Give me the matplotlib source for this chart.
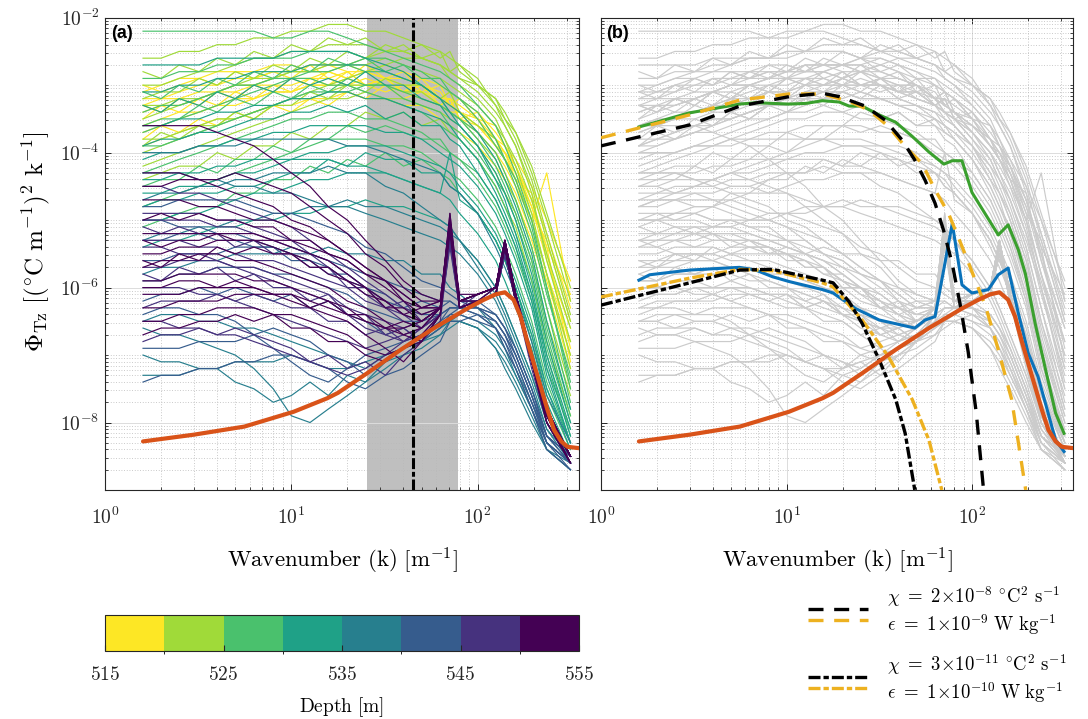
import numpy as np
import matplotlib
matplotlib.use('Agg')
import matplotlib.pyplot as plt
from matplotlib.colors import ListedColormap, BoundaryNorm
from matplotlib.cm import ScalarMappable
from matplotlib.lines import Line2D
from matplotlib.ticker import FixedLocator, FuncFormatter, NullFormatter

plt.rcParams['mathtext.fontset'] = 'cm'
plt.rcParams['font.family'] = ['DejaVu Serif']

# ---------------- data ----------------
# wavenumber grid of the observed spectra [cpm]
k_spec = [1.6, 2.0, 2.5, 3.2, 4.0, 5.0, 6.3, 8.0, 10, 12.6, 15.8, 20, 25, 32, 40,
          50, 63, 71, 80, 100, 125, 140, 160, 195, 235, 315]

# log10 of spectra, grouped by depth bin
spec_515_520 = [
    [-3.3,-3.2,-3.2,-3.1,-3.1,-3.0,-3.0,-2.9,-2.9,-2.9,-2.8,-2.9,-2.8,-2.9,-3.0,-3.0,-3.2,-3.2,-3.3,-3.5,-3.8,-4.0,-4.3,-4.8,-5.6,-6.6],
    [-3.6,-3.5,-3.4,-3.4,-3.3,-3.2,-3.2,-3.1,-3.1,-3.0,-3.0,-2.9,-3.0,-3.1,-3.0,-3.1,-3.3,-3.4,-3.4,-3.7,-4.0,-4.2,-4.5,-5.0,-4.3,-6.2],
    [-3.2,-3.2,-3.1,-3.0,-3.0,-2.9,-2.9,-2.8,-2.8,-2.7,-2.7,-2.7,-2.8,-2.7,-2.8,-2.9,-3.0,-3.1,-3.2,-3.4,-3.7,-3.9,-4.2,-4.7,-5.5,-6.9],
    [-3.9,-3.8,-3.7,-3.6,-3.5,-3.5,-3.4,-3.3,-3.3,-3.2,-3.2,-3.1,-3.2,-3.2,-3.3,-3.3,-3.5,-3.6,-3.7,-3.9,-4.2,-4.4,-4.7,-5.3,-6.0,-7.2],
    [-3.4,-3.3,-3.3,-3.2,-3.1,-3.1,-3.0,-3.0,-3.0,-2.9,-2.9,-3.0,-2.9,-3.0,-3.1,-3.2,-3.3,-3.4,-3.5,-3.7,-4.0,-4.3,-4.6,-5.2,-5.9,-7.0],
    [-3.1,-3.0,-2.9,-2.9,-2.8,-2.8,-2.8,-2.7,-2.7,-2.8,-2.7,-2.8,-2.8,-2.9,-2.9,-3.0,-3.1,-3.3,-3.4,-3.6,-3.9,-4.1,-4.4,-5.0,-5.8,-6.8],
    [-3.7,-3.6,-3.5,-3.4,-3.3,-3.3,-3.2,-3.1,-3.1,-3.0,-3.0,-3.0,-3.0,-3.0,-3.1,-3.1,-3.2,-3.3,-3.4,-3.6,-3.8,-4.0,-4.2,-4.7,-5.4,-6.1],
    [-3.5,-3.3,-3.4,-3.2,-3.3,-3.1,-3.2,-3.0,-3.1,-2.9,-3.0,-2.8,-3.0,-2.9,-3.1,-2.9,-3.2,-3.1,-3.4,-3.5,-3.9,-4.0,-4.4,-4.6,-5.2,-6.3],
    [-3.3,-3.4,-3.2,-3.3,-3.1,-3.2,-3.0,-3.1,-2.9,-3.0,-2.8,-2.9,-2.7,-2.9,-2.8,-3.1,-3.0,-3.3,-3.2,-3.5,-3.6,-3.9,-4.1,-4.5,-5.0,-5.9],
    [-3.8,-3.6,-3.7,-3.5,-3.6,-3.4,-3.5,-3.3,-3.4,-3.2,-3.3,-3.1,-3.2,-3.0,-3.2,-3.1,-3.3,-3.2,-3.5,-3.6,-3.9,-4.1,-4.3,-4.9,-5.3,-6.5],
    [-3.0,-3.1,-3.0,-2.9,-3.0,-2.8,-2.9,-2.8,-2.9,-2.7,-2.9,-2.8,-3.0,-2.9,-3.1,-3.0,-3.3,-3.2,-3.5,-3.4,-3.8,-3.9,-4.2,-4.8,-5.4,-7.1],
]
spec_520_525 = [
    [-2.6,-2.6,-2.5,-2.5,-2.4,-2.4,-2.3,-2.3,-2.2,-2.2,-2.1,-2.1,-2.2,-2.2,-2.3,-2.4,-2.5,-2.6,-2.7,-2.9,-3.3,-3.6,-3.9,-4.6,-5.6,-6.8],
    [-3.5,-3.4,-3.3,-3.2,-3.1,-3.0,-2.9,-2.9,-2.8,-2.8,-2.7,-2.7,-2.7,-2.6,-2.7,-2.8,-2.9,-3.0,-3.1,-3.3,-3.6,-3.8,-4.1,-4.7,-5.5,-6.6],
    [-3.8,-3.8,-3.7,-3.6,-3.5,-3.5,-3.4,-3.3,-3.2,-3.2,-3.1,-3.0,-3.0,-3.0,-3.1,-3.1,-3.3,-3.4,-3.5,-3.8,-4.1,-4.4,-4.7,-5.4,-6.3,-7.5],
    [-4.2,-4.1,-4.0,-3.9,-3.8,-3.7,-3.6,-3.5,-3.4,-3.3,-3.2,-3.2,-3.1,-3.2,-3.2,-3.3,-3.4,-3.5,-3.6,-3.9,-4.3,-4.6,-4.9,-5.6,-6.5,-7.6],
    [-3.0,-3.0,-2.9,-2.8,-2.8,-2.7,-2.6,-2.6,-2.5,-2.5,-2.4,-2.4,-2.4,-2.5,-2.5,-2.6,-2.7,-2.8,-2.9,-3.1,-3.4,-3.6,-3.9,-4.5,-5.3,-6.5],
    [-3.3,-3.3,-3.2,-3.2,-3.1,-3.0,-3.0,-2.9,-2.8,-2.8,-2.8,-2.7,-2.6,-2.5,-2.5,-2.6,-2.7,-2.9,-3.0,-3.2,-3.5,-3.8,-4.2,-4.9,-5.8,-7.0],
    [-4.0,-3.9,-3.8,-3.7,-3.6,-3.5,-3.4,-3.3,-3.2,-3.1,-3.0,-2.9,-2.8,-2.7,-2.6,-2.6,-2.7,-2.8,-2.9,-3.0,-3.3,-3.5,-3.8,-4.4,-5.2,-6.4],
    [-2.8,-2.9,-2.7,-2.8,-2.6,-2.7,-2.5,-2.6,-2.4,-2.5,-2.3,-2.4,-2.3,-2.5,-2.4,-2.6,-2.5,-2.8,-2.7,-3.0,-3.2,-3.5,-3.7,-4.3,-5.0,-6.2],
    [-3.9,-3.7,-3.8,-3.6,-3.6,-3.4,-3.5,-3.3,-3.3,-3.1,-3.2,-3.0,-3.1,-2.9,-3.0,-3.0,-3.2,-3.1,-3.4,-3.6,-3.8,-4.1,-4.4,-5.0,-5.8,-7.2],
    [-3.2,-3.1,-3.1,-2.9,-3.0,-2.8,-2.9,-2.7,-2.8,-2.6,-2.7,-2.5,-2.6,-2.4,-2.5,-2.4,-2.6,-2.5,-2.8,-3.0,-3.2,-3.4,-3.7,-4.2,-4.9,-6.0],
    [-4.4,-4.3,-4.2,-4.2,-4.0,-4.1,-3.9,-3.9,-3.7,-3.8,-3.6,-3.6,-3.4,-3.5,-3.4,-3.6,-3.5,-3.7,-3.8,-4.1,-4.5,-4.8,-5.1,-5.9,-6.8,-7.9],
]
spec_525_530 = [
    [-2.2,-2.2,-2.2,-2.2,-2.2,-2.2,-2.2,-2.3,-2.3,-2.2,-2.2,-2.3,-2.4,-2.5,-2.6,-2.7,-2.8,-2.9,-3.0,-3.3,-3.6,-3.9,-4.3,-5.0,-6.0,-7.4],
    [-3.7,-3.6,-3.5,-3.4,-3.3,-3.2,-3.1,-3.0,-2.9,-2.8,-2.8,-2.7,-2.8,-2.8,-2.9,-3.0,-3.2,-3.4,-3.5,-3.8,-4.2,-4.5,-4.9,-5.6,-6.6,-7.8],
    [-4.3,-4.2,-4.1,-4.0,-3.9,-3.8,-3.7,-3.6,-3.5,-3.5,-3.4,-3.4,-3.5,-3.5,-3.6,-3.7,-3.9,-4.0,-4.1,-4.4,-4.8,-5.1,-5.5,-6.2,-7.2,-8.1],
    [-2.9,-2.9,-2.8,-2.8,-2.7,-2.7,-2.6,-2.6,-2.6,-2.5,-2.5,-2.5,-2.6,-2.6,-2.7,-2.8,-3.0,-3.1,-3.2,-3.5,-3.9,-4.1,-4.5,-5.2,-6.1,-7.3],
    [-4.8,-4.7,-4.6,-4.5,-4.4,-4.3,-4.2,-4.1,-4.0,-3.9,-3.8,-3.8,-3.8,-3.9,-3.9,-4.0,-4.2,-4.3,-4.4,-4.7,-5.1,-5.4,-5.8,-6.5,-7.4,-8.3],
    [-3.4,-3.3,-3.3,-3.2,-3.1,-3.0,-3.0,-2.9,-2.9,-2.9,-3.0,-3.0,-3.1,-3.2,-3.3,-3.4,-3.6,-3.7,-3.8,-4.1,-4.5,-4.8,-5.2,-5.9,-6.9,-8.0],
    [-3.9,-3.9,-3.8,-3.7,-3.6,-3.5,-3.4,-3.3,-3.2,-3.1,-3.1,-3.1,-3.0,-3.0,-3.1,-3.2,-3.3,-3.4,-3.5,-3.7,-4.0,-4.3,-4.7,-5.4,-6.3,-7.7],
    [-3.1,-3.2,-3.0,-3.1,-2.9,-3.0,-2.8,-2.9,-2.7,-2.8,-2.6,-2.7,-2.6,-2.8,-2.7,-2.9,-2.9,-3.1,-3.2,-3.4,-3.8,-4.1,-4.4,-5.1,-6.0,-7.5],
    [-4.5,-4.4,-4.4,-4.2,-4.3,-4.1,-4.1,-3.9,-4.0,-3.8,-3.8,-3.6,-3.7,-3.6,-3.7,-3.8,-3.8,-4.0,-4.1,-4.3,-4.7,-5.0,-5.4,-6.1,-7.0,-8.2],
    [-3.6,-3.5,-3.5,-3.3,-3.4,-3.2,-3.3,-3.1,-3.2,-3.0,-3.1,-2.9,-3.0,-3.0,-3.2,-3.3,-3.4,-3.6,-3.7,-4.0,-4.4,-4.6,-5.0,-5.7,-6.7,-7.9],
    [-5.1,-5.0,-4.9,-4.8,-4.8,-4.6,-4.6,-4.4,-4.4,-4.2,-4.3,-4.1,-4.2,-4.0,-4.2,-4.1,-4.3,-4.4,-4.6,-4.9,-5.3,-5.6,-6.0,-6.7,-7.6,-8.4],
]
spec_530_535 = [
    [-2.7,-2.7,-2.7,-2.7,-2.6,-2.6,-2.6,-2.6,-2.5,-2.5,-2.5,-2.5,-2.6,-2.7,-2.8,-3.0,-3.2,-3.4,-3.6,-3.9,-4.4,-4.7,-5.2,-6.0,-7.0,-8.1],
    [-3.6,-3.6,-3.5,-3.5,-3.4,-3.4,-3.3,-3.3,-3.2,-3.2,-3.1,-3.1,-3.2,-3.2,-3.3,-3.4,-3.5,-3.6,-3.8,-4.1,-4.6,-4.9,-5.3,-6.1,-7.1,-8.2],
    [-4.1,-4.0,-4.0,-3.9,-3.9,-3.8,-3.8,-3.7,-3.7,-3.6,-3.6,-3.6,-3.6,-3.7,-3.7,-3.8,-4.0,-4.1,-4.2,-4.5,-4.9,-5.2,-5.6,-6.3,-7.3,-8.3],
    [-4.6,-4.6,-4.5,-4.5,-4.4,-4.3,-4.3,-4.2,-4.1,-4.0,-4.0,-3.9,-3.9,-3.9,-4.0,-4.1,-4.2,-4.3,-4.5,-4.8,-5.2,-5.5,-5.9,-6.6,-7.5,-8.4],
    [-3.1,-3.1,-3.0,-3.0,-2.9,-2.9,-2.8,-2.8,-2.8,-2.7,-2.7,-2.7,-2.7,-2.8,-2.9,-3.0,-3.2,-3.3,-3.4,-3.7,-4.1,-4.4,-4.8,-5.5,-6.5,-7.8],
    [-5.0,-5.0,-4.9,-4.9,-4.8,-4.7,-4.6,-4.6,-4.5,-4.4,-4.4,-4.3,-4.3,-4.3,-4.4,-4.5,-4.6,-4.7,-4.9,-5.2,-5.6,-5.9,-6.3,-6.9,-7.8,-8.5],
    [-4.4,-4.4,-4.3,-4.3,-4.2,-4.2,-4.1,-4.1,-4.1,-4.1,-4.1,-4.2,-4.2,-4.3,-4.4,-4.5,-4.6,-4.0,-4.7,-4.9,-5.3,-5.6,-6.0,-6.7,-7.5,-8.3],
    [-3.3,-3.4,-3.2,-3.3,-3.1,-3.2,-3.0,-3.1,-2.9,-3.0,-2.9,-3.0,-2.8,-3.0,-3.0,-3.2,-3.3,-3.5,-3.6,-3.9,-4.3,-4.6,-5.0,-5.8,-6.8,-8.0],
    [-4.8,-4.7,-4.7,-4.6,-4.6,-4.5,-4.5,-4.4,-4.3,-4.3,-4.1,-4.2,-4.0,-4.1,-4.1,-4.3,-4.3,-4.5,-4.6,-4.9,-5.3,-5.6,-6.0,-6.8,-7.7,-8.5],
    [-3.9,-3.8,-3.8,-3.7,-3.7,-3.6,-3.5,-3.5,-3.4,-3.4,-3.3,-3.4,-3.3,-3.5,-3.4,-3.6,-3.6,-3.8,-3.9,-4.3,-4.7,-5.0,-5.4,-6.2,-7.2,-8.3],
    [-5.4,-5.3,-5.3,-5.2,-5.1,-5.1,-5.0,-5.0,-4.9,-4.9,-4.8,-4.8,-4.7,-4.8,-4.8,-4.9,-5.0,-5.1,-5.3,-5.6,-6.0,-6.3,-6.7,-7.3,-8.0,-8.6],
]
spec_535_540 = [
    [-4.3,-4.3,-4.3,-4.4,-4.4,-4.5,-4.5,-4.6,-4.6,-4.7,-4.8,-4.8,-4.9,-5.0,-5.1,-5.2,-5.3,-5.4,-5.5,-5.8,-6.2,-6.5,-6.9,-7.5,-8.1,-8.5],
    [-5.3,-5.2,-5.2,-5.1,-5.1,-5.0,-5.0,-4.9,-4.9,-4.8,-4.8,-4.7,-4.8,-4.8,-4.9,-5.0,-5.1,-5.2,-5.3,-5.6,-6.0,-6.3,-6.7,-7.3,-8.0,-8.5],
    [-7.3,-7.3,-7.3,-7.2,-7.2,-7.1,-7.1,-7.1,-7.0,-7.1,-7.2,-7.2,-7.1,-7.0,-6.9,-6.8,-6.6,-6.5,-6.5,-6.6,-6.8,-7.0,-7.3,-7.8,-8.3,-8.6],
    [-6.6,-6.7,-6.7,-6.8,-6.9,-7.0,-7.2,-7.5,-7.9,-8.0,-7.8,-7.6,-7.4,-7.2,-7.0,-6.9,-6.7,-6.6,-6.5,-6.6,-6.9,-7.2,-7.5,-8.0,-8.4,-8.7],
    [-4.0,-4.0,-4.0,-3.9,-3.9,-3.9,-3.8,-3.8,-3.8,-3.8,-3.8,-3.9,-3.9,-4.0,-4.1,-4.2,-4.3,-4.5,-4.6,-4.9,-5.4,-5.7,-6.1,-6.8,-7.6,-8.3],
    [-6.5,-6.4,-6.4,-6.5,-6.5,-6.6,-6.6,-6.7,-6.8,-6.9,-7.0,-7.1,-7.2,-7.0,-6.9,-6.8,-6.6,-6.5,-6.5,-6.6,-6.9,-7.1,-7.4,-7.9,-8.4,-8.6],
    [-5.8,-5.7,-5.7,-5.6,-5.6,-5.5,-5.5,-5.5,-5.4,-5.5,-5.4,-5.5,-5.5,-5.6,-5.6,-5.8,-5.8,-6.0,-6.1,-6.3,-6.6,-6.9,-7.2,-7.7,-8.2,-8.6],
    [-7.0,-7.1,-7.1,-7.2,-7.2,-7.4,-7.5,-7.7,-7.6,-7.4,-7.6,-7.3,-7.4,-7.1,-7.0,-6.8,-6.7,-6.5,-6.4,-6.5,-6.7,-6.9,-7.3,-7.8,-8.4,-8.7],
    [-4.7,-4.6,-4.6,-4.5,-4.5,-4.4,-4.4,-4.3,-4.3,-4.3,-4.2,-4.3,-4.3,-4.5,-4.6,-4.8,-5.0,-5.1,-5.3,-5.7,-6.1,-6.4,-6.8,-7.4,-8.1,-8.6],
]
spec_540_545 = [
    [-5.6,-5.6,-5.5,-5.5,-5.5,-5.4,-5.4,-5.4,-5.5,-5.5,-5.6,-5.7,-5.8,-5.9,-6.0,-6.1,-6.2,-6.2,-6.3,-6.4,-6.6,-6.9,-7.2,-7.8,-8.3,-8.6],
    [-6.9,-6.9,-6.9,-6.8,-6.8,-6.8,-6.7,-6.6,-6.7,-6.8,-7.0,-7.1,-7.3,-7.1,-6.9,-6.8,-6.6,-6.4,-6.4,-6.5,-6.6,-6.8,-7.2,-7.8,-8.4,-8.7],
    [-4.8,-4.8,-4.7,-4.7,-4.7,-4.7,-4.8,-4.9,-4.9,-5.0,-5.1,-5.2,-5.4,-5.5,-5.7,-5.9,-6.0,-6.1,-6.2,-6.3,-6.5,-6.7,-7.0,-7.6,-8.2,-8.6],
    [-6.4,-6.3,-6.3,-6.4,-6.4,-6.5,-6.7,-6.9,-7.1,-7.3,-7.4,-7.2,-7.0,-6.9,-6.8,-6.7,-6.5,-6.4,-6.3,-6.4,-6.5,-6.7,-7.1,-7.7,-8.3,-8.6],
    [-5.9,-5.9,-5.8,-5.8,-5.7,-5.7,-5.7,-5.8,-5.8,-5.9,-6.0,-6.1,-6.3,-6.4,-6.5,-6.5,-6.4,-6.3,-6.3,-6.3,-6.4,-6.6,-6.9,-7.5,-8.2,-8.5],
    [-5.0,-5.0,-5.1,-5.1,-5.2,-5.2,-5.3,-5.4,-5.5,-5.6,-5.7,-5.9,-6.0,-6.2,-6.3,-6.4,-6.4,-6.3,-6.3,-6.3,-6.4,-6.6,-7.0,-7.6,-8.2,-8.5],
    [-6.2,-6.1,-6.1,-6.0,-6.1,-6.0,-6.1,-6.2,-6.1,-6.3,-6.2,-6.4,-6.5,-6.7,-6.6,-6.8,-6.5,-6.3,-6.3,-6.3,-6.5,-6.7,-7.0,-7.6,-8.3,-8.6],
    [-5.3,-5.3,-5.2,-5.2,-5.3,-5.3,-5.4,-5.4,-5.6,-5.6,-5.8,-5.8,-6.0,-6.1,-6.3,-6.2,-6.3,-6.2,-6.3,-6.2,-6.4,-6.6,-6.9,-7.5,-8.2,-8.5],
    [-7.4,-7.3,-7.3,-7.2,-7.2,-7.1,-7.1,-7.0,-7.0,-7.1,-7.2,-7.4,-7.5,-7.3,-7.2,-7.0,-6.8,-6.5,-6.5,-6.4,-6.6,-6.8,-7.1,-7.7,-8.3,-8.7],
]
spec_545_550 = [
    [-5.3,-5.3,-5.3,-5.4,-5.4,-5.5,-5.6,-5.6,-5.7,-5.8,-5.9,-6.0,-6.2,-6.3,-6.4,-6.5,-6.3,-5.2,-6.2,-6.2,-6.1,-5.5,-6.2,-7.1,-7.9,-8.5],
    [-6.0,-6.0,-6.0,-6.1,-6.1,-6.2,-6.3,-6.4,-6.5,-6.6,-6.7,-6.8,-6.9,-6.8,-6.7,-6.6,-6.3,-5.3,-6.2,-6.1,-6.0,-5.4,-6.1,-7.0,-7.8,-8.5],
    [-4.5,-4.5,-4.6,-4.6,-4.7,-4.8,-4.9,-5.0,-5.1,-5.3,-5.5,-5.7,-5.9,-6.1,-6.3,-6.4,-6.3,-5.1,-6.2,-6.2,-6.1,-5.4,-6.2,-7.2,-8.0,-8.6],
    [-6.5,-6.5,-6.6,-6.6,-6.7,-6.7,-6.8,-6.9,-7.0,-7.1,-7.2,-7.3,-7.2,-7.0,-6.8,-6.6,-6.4,-5.4,-6.3,-6.2,-6.1,-5.5,-6.2,-7.1,-7.9,-8.5],
    [-5.7,-5.7,-5.6,-5.6,-5.6,-5.7,-5.7,-5.8,-5.9,-6.0,-6.1,-6.3,-6.4,-6.5,-6.6,-6.5,-6.3,-5.2,-6.2,-6.2,-6.0,-5.4,-6.1,-7.0,-7.8,-8.5],
    [-5.0,-5.0,-5.0,-5.0,-5.1,-5.1,-5.2,-5.3,-5.4,-5.5,-5.6,-5.8,-6.0,-6.2,-6.4,-6.6,-6.4,-5.3,-6.3,-6.2,-6.1,-5.5,-6.2,-7.1,-7.9,-8.5],
    [-5.4,-5.4,-5.5,-5.5,-5.6,-5.7,-5.8,-5.9,-6.0,-6.1,-6.2,-6.4,-6.6,-6.7,-6.8,-6.7,-6.4,-5.3,-6.3,-6.2,-6.1,-5.5,-6.2,-7.1,-7.9,-8.5],
    [-4.9,-4.9,-4.9,-4.9,-5.0,-5.0,-5.1,-5.2,-5.3,-5.5,-5.7,-5.9,-6.1,-6.3,-6.5,-6.6,-6.4,-5.2,-6.3,-6.2,-6.1,-5.5,-6.2,-7.1,-7.9,-8.5],
    [-5.8,-5.9,-5.7,-5.8,-5.7,-5.9,-5.8,-6.0,-6.0,-6.2,-6.1,-6.4,-6.4,-6.7,-6.6,-6.8,-6.4,-5.2,-6.3,-6.1,-6.0,-5.4,-6.1,-7.0,-7.9,-8.6],
    [-6.8,-6.7,-6.7,-6.6,-6.7,-6.6,-6.7,-6.8,-6.9,-7.1,-7.0,-7.2,-7.1,-7.3,-7.0,-6.8,-6.5,-5.3,-6.3,-6.2,-6.1,-5.5,-6.2,-7.1,-7.9,-8.5],
    [-5.1,-5.2,-5.1,-5.2,-5.2,-5.4,-5.3,-5.5,-5.5,-5.7,-5.7,-6.0,-6.0,-6.3,-6.2,-6.5,-6.3,-5.1,-6.2,-6.1,-6.0,-5.4,-6.1,-7.0,-7.8,-8.5],
    [-6.3,-6.2,-6.2,-6.2,-6.1,-6.2,-6.1,-6.2,-6.3,-6.3,-6.5,-6.5,-6.7,-6.6,-6.8,-6.6,-6.4,-5.3,-6.3,-6.2,-6.0,-5.5,-6.2,-7.1,-8.0,-8.6],
]
spec_550_555 = [
    [-3.6,-3.6,-3.6,-3.6,-3.7,-3.8,-3.9,-4.1,-4.3,-4.5,-4.8,-5.0,-5.3,-5.6,-5.9,-6.1,-6.2,-5.0,-6.2,-6.1,-6.0,-5.3,-6.1,-7.0,-7.8,-8.5],
    [-5.5,-5.5,-5.4,-5.4,-5.3,-5.3,-5.3,-5.3,-5.4,-5.5,-5.6,-5.8,-6.0,-6.2,-6.4,-6.5,-6.3,-4.9,-6.2,-6.1,-6.0,-5.3,-6.1,-7.0,-7.9,-8.5],
    [-6.1,-6.1,-6.1,-6.0,-6.0,-6.0,-6.0,-6.1,-6.1,-6.2,-6.3,-6.4,-6.5,-6.6,-6.7,-6.6,-6.3,-5.0,-6.2,-6.2,-6.0,-5.4,-6.1,-7.1,-7.9,-8.6],
    [-4.7,-4.7,-4.7,-4.8,-4.8,-4.9,-5.0,-5.0,-5.1,-5.2,-5.3,-5.5,-5.7,-5.9,-6.1,-6.3,-6.2,-5.1,-6.1,-6.1,-6.0,-5.4,-6.1,-7.0,-7.8,-8.5],
    [-6.5,-6.5,-6.4,-6.4,-6.3,-6.3,-6.3,-6.4,-6.4,-6.5,-6.6,-6.7,-6.9,-7.0,-6.9,-6.7,-6.4,-5.2,-6.3,-6.2,-6.1,-5.4,-6.2,-7.1,-8.0,-8.6],
    [-5.9,-5.9,-5.8,-5.8,-5.8,-5.8,-5.9,-5.9,-6.0,-6.1,-6.2,-6.3,-6.5,-6.6,-6.6,-6.5,-6.3,-5.1,-6.2,-6.1,-6.0,-5.3,-6.1,-7.0,-7.8,-8.5],
    [-5.2,-5.2,-5.2,-5.2,-5.2,-5.2,-5.2,-5.3,-5.3,-5.4,-5.5,-5.6,-5.8,-6.0,-6.2,-6.4,-6.3,-5.0,-6.2,-6.1,-6.0,-5.3,-6.1,-7.0,-7.8,-8.5],
    [-4.3,-4.3,-4.3,-4.4,-4.5,-4.6,-4.7,-4.8,-5.0,-5.1,-5.3,-5.5,-5.7,-5.9,-6.1,-6.3,-6.2,-5.0,-6.2,-6.1,-6.0,-5.3,-6.1,-7.0,-7.9,-8.5],
    [-5.7,-5.6,-5.6,-5.5,-5.5,-5.6,-5.6,-5.7,-5.8,-5.9,-6.0,-6.2,-6.3,-6.5,-6.7,-6.8,-6.4,-5.0,-6.3,-6.2,-6.1,-5.4,-6.2,-7.1,-7.9,-8.6],
    [-6.3,-6.3,-6.2,-6.2,-6.2,-6.1,-6.1,-6.1,-6.2,-6.3,-6.4,-6.5,-6.7,-6.9,-7.1,-6.8,-6.4,-5.1,-6.3,-6.2,-6.1,-5.4,-6.2,-7.1,-8.0,-8.6],
    [-5.0,-4.9,-5.0,-4.9,-5.0,-5.0,-5.1,-5.1,-5.3,-5.3,-5.5,-5.6,-5.8,-5.9,-6.2,-6.3,-6.3,-4.9,-6.2,-6.1,-6.0,-5.3,-6.1,-7.0,-7.8,-8.5],
    [-5.6,-5.7,-5.5,-5.6,-5.4,-5.5,-5.4,-5.5,-5.5,-5.7,-5.7,-5.9,-6.0,-6.3,-6.3,-6.5,-6.3,-5.0,-6.2,-6.1,-6.0,-5.3,-6.1,-7.0,-7.9,-8.5],
    [-6.7,-6.6,-6.6,-6.5,-6.5,-6.4,-6.5,-6.4,-6.6,-6.6,-6.8,-6.8,-7.0,-7.1,-6.9,-6.8,-6.4,-5.1,-6.3,-6.2,-6.1,-5.4,-6.2,-7.1,-8.0,-8.6],
    [-4.5,-4.5,-4.4,-4.4,-4.4,-4.3,-4.4,-4.5,-4.6,-4.8,-5.0,-5.2,-5.5,-5.7,-6.0,-6.2,-6.2,-5.0,-6.2,-6.1,-6.0,-5.3,-6.1,-7.0,-7.8,-8.5],
    [-6.0,-6.0,-5.9,-5.9,-6.0,-5.9,-6.0,-6.1,-6.1,-6.3,-6.2,-6.4,-6.4,-6.6,-6.5,-6.6,-6.3,-5.0,-6.2,-6.1,-6.0,-5.3,-6.1,-7.0,-7.9,-8.5],
    [-5.3,-5.4,-5.3,-5.3,-5.2,-5.3,-5.3,-5.4,-5.5,-5.6,-5.8,-5.9,-6.1,-6.2,-6.4,-6.3,-6.3,-5.0,-6.2,-6.1,-6.0,-5.3,-6.1,-7.0,-7.8,-8.5],
]
spectra_by_depth = [spec_515_520, spec_520_525, spec_525_530, spec_530_535,
                    spec_535_540, spec_540_545, spec_545_550, spec_550_555]

depth_edges = [515, 520, 525, 530, 535, 540, 545, 550, 555]
depth_ticks = [515, 525, 535, 545, 555]
depth_colors = ['#FDE725', '#A0DA39', '#4AC16D', '#1FA187',
                '#277F8E', '#365C8D', '#46327E', '#440154']

# noise spectrum (log10)
k_noise = [1.6, 3.0, 5.6, 10.3, 15.6, 17.8, 25.5, 38.7, 58.4, 88, 108, 125, 140,
           156, 170, 184, 200, 218, 237, 257, 281, 304, 350]
noise = [-8.28, -8.18, -8.06, -7.84, -7.64, -7.56, -7.27, -6.92, -6.60, -6.31, -6.18,
         -6.10, -6.07, -6.18, -6.43, -6.78, -7.12, -7.47, -7.81, -8.11, -8.28, -8.36, -8.38]

# example spectra in (b) (log10)
k_green = [1.6, 3.0, 5.6, 6.8, 10.3, 12.7, 15.6, 19.2, 21.7, 25.5, 31.5, 38.7, 47.5,
           58.4, 70.3, 77.9, 88, 99.6, 138, 156, 177, 193, 218, 246, 281, 312]
green = [-3.62, -3.41, -3.28, -3.26, -3.28, -3.27, -3.23, -3.25, -3.31, -3.31, -3.44,
         -3.55, -3.76, -3.99, -4.17, -4.12, -4.12, -4.59, -5.22, -5.07, -5.44, -5.79,
         -6.53, -7.17, -7.86, -8.16]
k_blue = [1.6, 1.83, 3.0, 5.56, 6.8, 8.4, 10.3, 15.6, 17.8, 23.5, 31.5, 49, 55.7, 63,
          78, 88, 99.6, 122, 138, 156, 177, 200, 226, 281, 312]
blue = [-5.89, -5.81, -5.74, -5.70, -5.74, -5.84, -5.91, -6.03, -6.08, -6.31, -6.48,
        -6.60, -6.48, -6.43, -5.05, -5.96, -6.08, -6.03, -5.81, -5.71, -6.38, -6.97,
        -7.32, -8.26, -8.43]

# Batchelor fits (log10)
k_bat_hi_k = [1, 3.0, 5.6, 10.3, 15.6, 19.2, 26.5, 34, 41.8, 49, 55.7, 63, 70, 78,
              86, 95, 105, 115]
bat_hi_k = [-3.90, -3.59, -3.31, -3.17, -3.12, -3.17, -3.31, -3.52, -3.81, -4.11,
            -4.41, -4.75, -5.15, -5.65, -6.25, -6.95, -7.85, -9.0]
k_bat_hi_y = [1, 3, 5.6, 10.3, 15.6, 21.7, 27.8, 35.3, 43.5, 53.6, 63, 74.4, 88, 118,
              138, 163, 194]
bat_hi_y = [-3.78, -3.44, -3.22, -3.13, -3.13, -3.24, -3.37, -3.61, -3.91, -4.16,
            -4.55, -4.90, -5.39, -6.28, -6.92, -7.66, -9.0]
k_bat_lo_k = [1, 3, 5.6, 8.4, 15.6, 17.8, 21.7, 25.5, 31.5, 38.7, 43.5, 49]
bat_lo_k = [-6.26, -5.93, -5.74, -5.73, -5.89, -5.93, -6.21, -6.53, -7.07, -7.66,
            -8.16, -9.0]
k_bat_lo_y = [1, 3, 5.6, 8.4, 15.6, 17.8, 25.5, 35.3, 47.5, 58.4, 68.5]
bat_lo_y = [-6.14, -5.86, -5.73, -5.75, -5.93, -5.99, -6.48, -7.02, -7.66, -8.26, -9.0]

band_lo, band_hi, k_mark = 25.5, 78.5, 45

# ---------------- figure ----------------
W, H = 1088, 719
fig = plt.figure(figsize=(W / 100, H / 100), dpi=100, facecolor='white')


def fx(px):
    return px / W


def fy(py):
    return 1 - py / H


ax_a = fig.add_axes([fx(105), fy(490), (579 - 105) / W, (490 - 17.7) / H])
ax_b = fig.add_axes([fx(601), fy(490), (1073.3 - 601) / W, (490 - 17.7) / H])

ymaj = [1e-8, 1e-6, 1e-4, 1e-2]
ymin = [m * 10.0 ** e for e in range(-9, -1) for m in range(1, 10)
        if not (m == 1 and e in (-8, -6, -4, -2))]
xmin = [m * 10.0 ** e for e in range(0, 3) for m in range(2, 10) if m * 10.0 ** e < 360]
fmt = FuncFormatter(lambda v, p: r'$10^{%d}$' % int(round(np.log10(v))))


def style(ax, ylabels=True):
    ax.set_xscale('log')
    ax.set_yscale('log')
    ax.set_xlim(1, 350)
    ax.set_ylim(1e-9, 1e-2)
    ax.xaxis.set_major_locator(FixedLocator([1, 10, 100]))
    ax.xaxis.set_minor_locator(FixedLocator(xmin))
    ax.yaxis.set_major_locator(FixedLocator(ymaj))
    ax.yaxis.set_minor_locator(FixedLocator(ymin))
    ax.xaxis.set_major_formatter(fmt)
    ax.xaxis.set_minor_formatter(NullFormatter())
    ax.yaxis.set_minor_formatter(NullFormatter())
    if ylabels:
        ax.yaxis.set_major_formatter(fmt)
    else:
        ax.yaxis.set_major_formatter(NullFormatter())
    ax.grid(True, which='major', color='#dcdcdc', lw=0.7, ls='-')
    ax.grid(True, which='minor', color='#b8b8b8', lw=0.6, ls=(0, (1, 2.2)))
    ax.tick_params(which='both', direction='in', top=True, right=True,
                   colors='#262626', labelsize=14)
    ax.tick_params(which='major', length=4, width=0.7)
    ax.tick_params(which='minor', length=2, width=0.6)
    ax.tick_params(axis='x', which='major', pad=12)
    ax.tick_params(axis='y', which='major', pad=4)
    for s in ax.spines.values():
        s.set_color('#262626')
        s.set_linewidth(0.8)


style(ax_a, True)
style(ax_b, False)

# ---- panel (a)
ax_a.axvspan(band_lo, band_hi, color='#bfbfbf', lw=0, zorder=1)
for col, group in zip(depth_colors, spectra_by_depth):
    for s in group:
        ax_a.plot(k_spec, 10 ** np.array(s), color=col, lw=0.85, zorder=2)
ax_a.axvline(k_mark, color='black', lw=2.2, dashes=(3.6, 0.9, 1.6, 0.9), zorder=4)
ax_a.plot(k_noise, 10 ** np.array(noise), color='#D95319', lw=3.0, zorder=5,
          solid_capstyle='round')

# ---- panel (b)
for group in spectra_by_depth:
    for s in group:
        ax_b.plot(k_spec, 10 ** np.array(s), color='#cbcbcb', lw=0.85, zorder=2)
ax_b.plot(k_green, 10 ** np.array(green), color='#3AA02E', lw=2.2, zorder=4)
ax_b.plot(k_blue, 10 ** np.array(blue), color='#0A72BA', lw=2.2, zorder=4)
ax_b.plot(k_bat_hi_y, 10 ** np.array(bat_hi_y), color='#EDB120', lw=2.4,
          dashes=(4.5, 3.2), zorder=5)
ax_b.plot(k_bat_hi_k, 10 ** np.array(bat_hi_k), color='black', lw=2.4,
          dashes=(4.5, 3.2), zorder=5)
ax_b.plot(k_bat_lo_y, 10 ** np.array(bat_lo_y), color='#EDB120', lw=2.4,
          dashes=(3.6, 0.9, 1.6, 0.9), zorder=5)
ax_b.plot(k_bat_lo_k, 10 ** np.array(bat_lo_k), color='black', lw=2.4,
          dashes=(3.6, 0.9, 1.6, 0.9), zorder=5)
ax_b.plot(k_noise, 10 ** np.array(noise), color='#D95319', lw=3.0, zorder=6,
          solid_capstyle='round')

# panel letters
fig.text(fx(121.5), fy(33), '(a)', family='Liberation Sans', weight='bold',
         fontsize=13, ha='center', va='center')
fig.text(fx(617.5), fy(33), '(b)', family='Liberation Sans', weight='bold',
         fontsize=13, ha='center', va='center')

# axis labels
fig.text(fx(36), fy(242), r'$\Phi_{\mathrm{Tz}}\ [(^{\circ}\mathrm{C\ m}^{-1})^{2}\ \mathrm{k}^{-1}]$',
         rotation=90, ha='center', va='center', fontsize=18)
fig.text(fx(342), fy(561), r'$\mathrm{Wavenumber\ (k)\ [m^{-1}]}$',
         ha='center', va='center', fontsize=16.5)
fig.text(fx(837), fy(561), r'$\mathrm{Wavenumber\ (k)\ [m^{-1}]}$',
         ha='center', va='center', fontsize=16.5)

# colorbar
cax = fig.add_axes([fx(105), fy(651), (579 - 105) / W, 36 / H])
cmap = ListedColormap(depth_colors)
norm = BoundaryNorm(depth_edges, cmap.N)
cb = fig.colorbar(ScalarMappable(norm=norm, cmap=cmap), cax=cax,
                  orientation='horizontal', ticks=depth_ticks)
cb.ax.set_xticklabels([r'$%d$' % t for t in depth_ticks], fontsize=14)
cb.ax.tick_params(direction='in', length=4, width=0.8, pad=11, colors='#262626')
cb.outline.set_linewidth(0.8)
cb.outline.set_edgecolor('#262626')
fig.text(fx(342), fy(707), r'$\mathrm{Depth\ [m]}$', ha='center', va='center', fontsize=14)


# legend
def leg_line(y, color, dashes):
    fig.add_artist(Line2D([fx(808), fx(868)], [fy(y), fy(y)], transform=fig.transFigure,
                          color=color, lw=2.4, dashes=dashes))


leg_line(609, 'black', (4.5, 3.2))
leg_line(620, '#EDB120', (4.5, 3.2))
leg_line(677, 'black', (3.6, 0.9, 1.6, 0.9))
leg_line(688, '#EDB120', (3.6, 0.9, 1.6, 0.9))
leg_kw = dict(ha='left', va='center', fontsize=13.5)
fig.text(fx(887), fy(597), r'$\chi\ =\ 2{\times}10^{-8}\ ^{\circ}\mathrm{C}^{2}\ \mathrm{s}^{-1}$', **leg_kw)
fig.text(fx(887), fy(625), r'$\epsilon\ =\ 1{\times}10^{-9}\ \mathrm{W\ kg}^{-1}$', **leg_kw)
fig.text(fx(887), fy(665), r'$\chi\ =\ 3{\times}10^{-11}\ ^{\circ}\mathrm{C}^{2}\ \mathrm{s}^{-1}$', **leg_kw)
fig.text(fx(887), fy(693), r'$\epsilon\ =\ 1{\times}10^{-10}\ \mathrm{W\ kg}^{-1}$', **leg_kw)

fig.savefig('out.png', dpi=100, facecolor='white')
